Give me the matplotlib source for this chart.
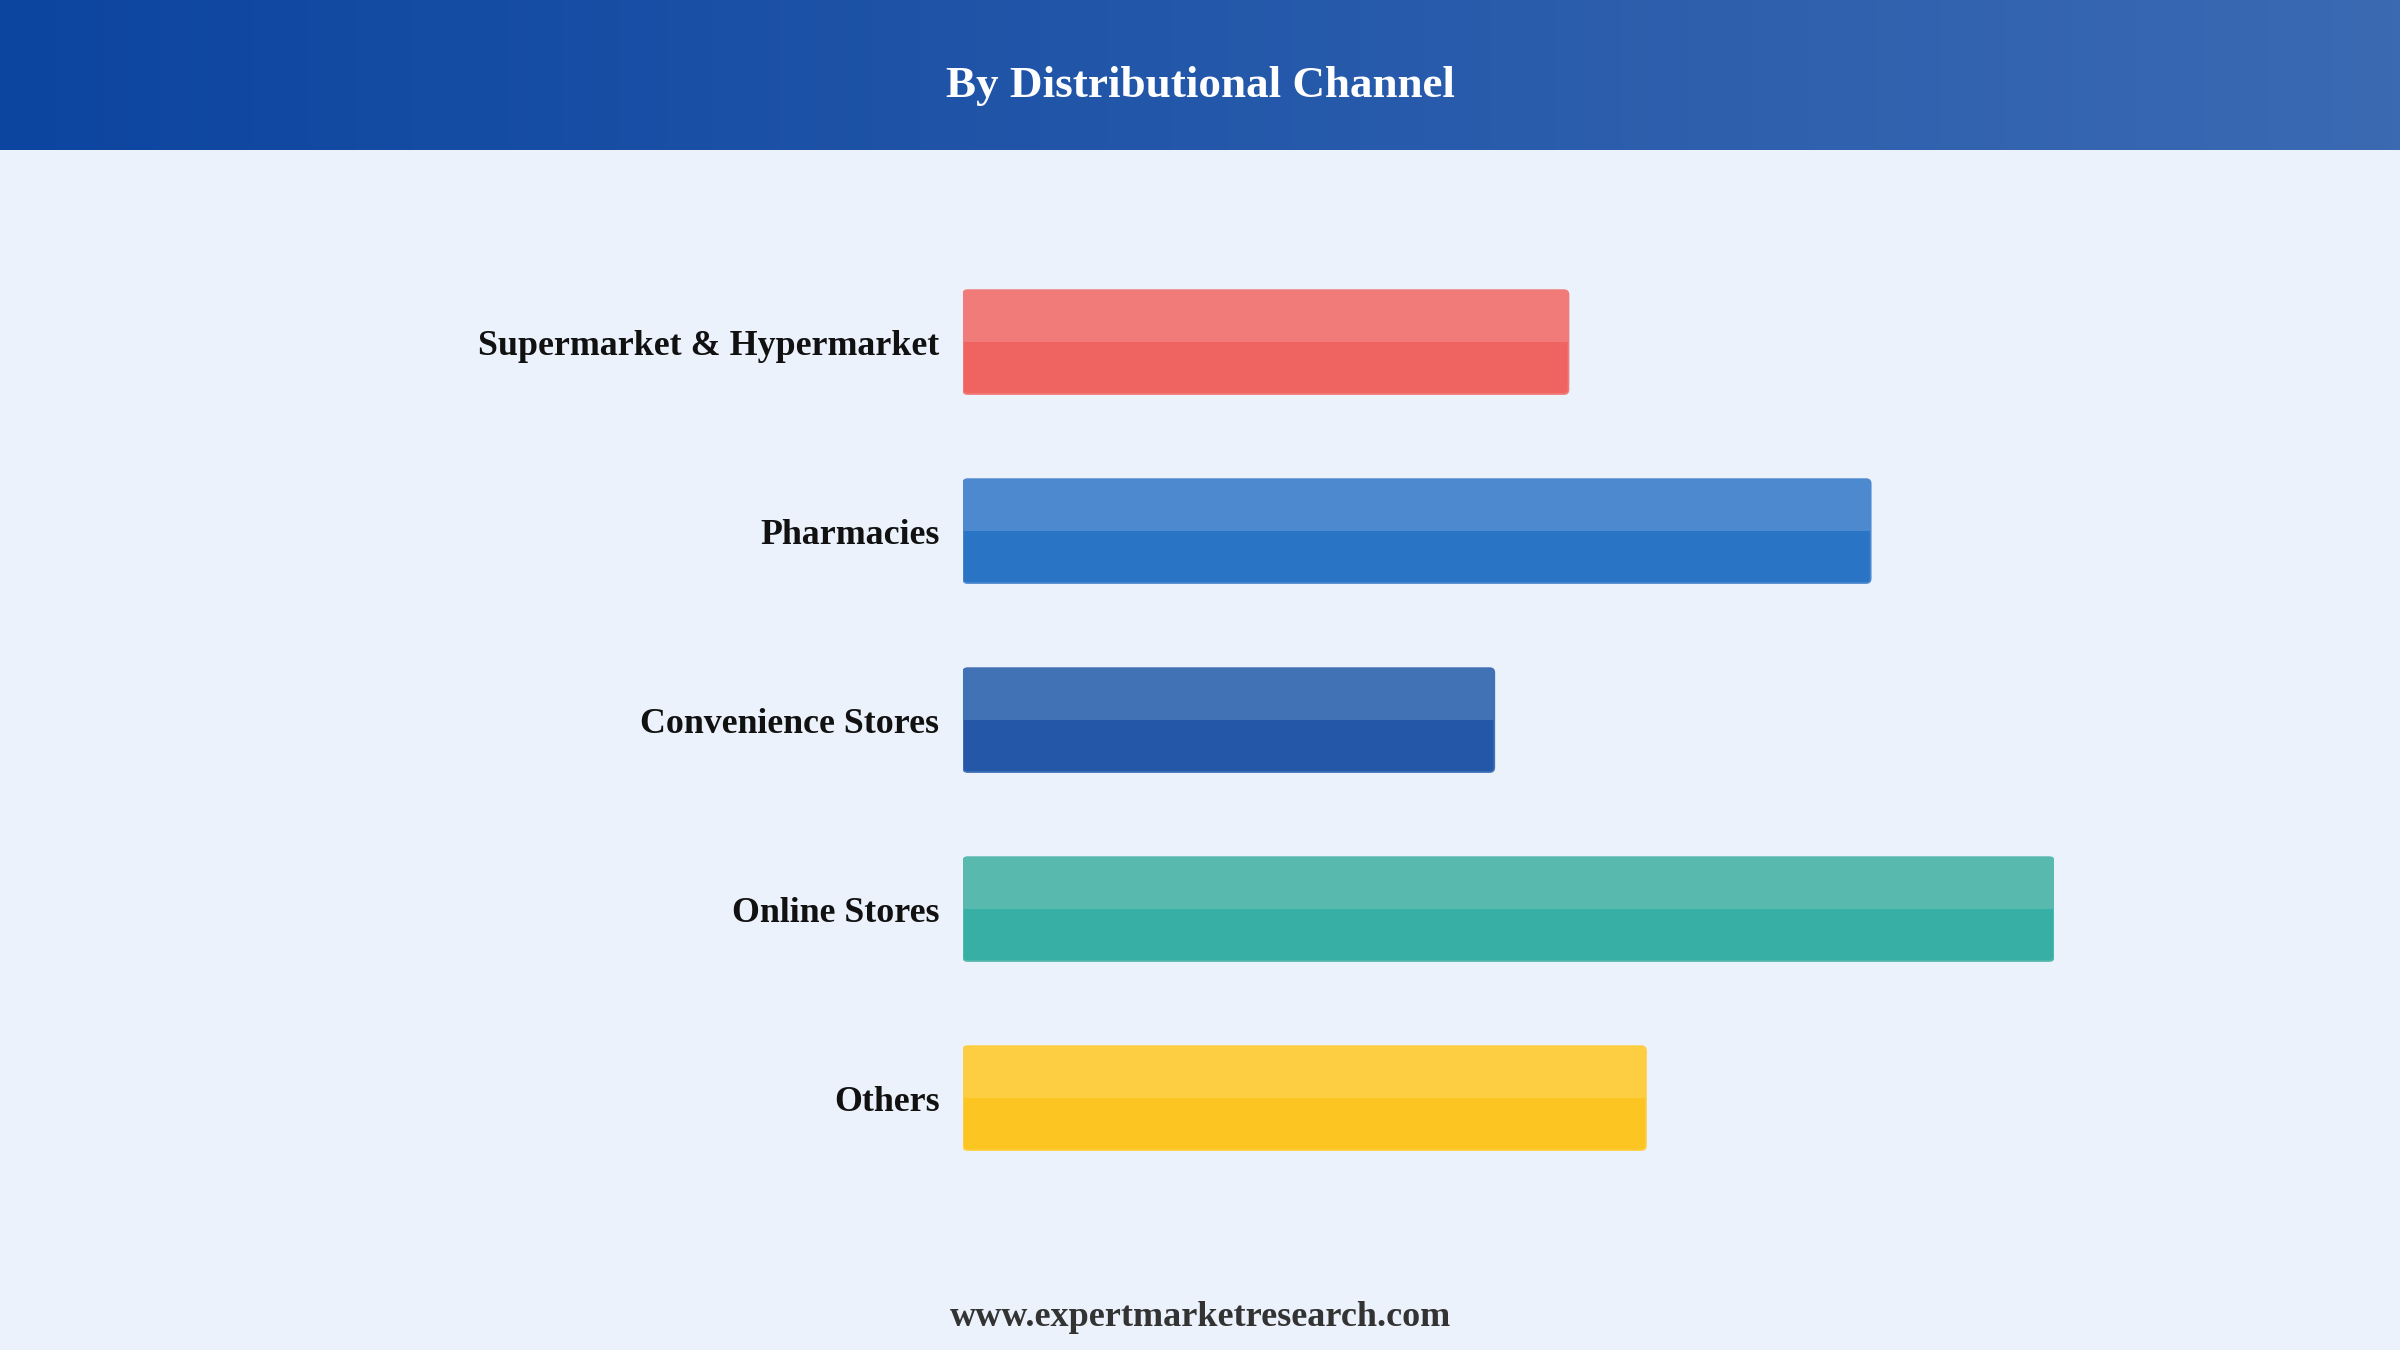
import numpy as np
import matplotlib.pyplot as plt
from matplotlib.patches import FancyBboxPatch, Rectangle
from matplotlib.colors import LinearSegmentedColormap

# Данные
channels = ['Supermarket & Hypermarket', 'Pharmacies', 'Convenience Stores',
            'Online Stores', 'Others']
shares = [55.5, 83.2, 48.7, 100.0, 62.6]
base_colors = ['#EF6461', '#2A74C5', '#2457A8', '#38AFA4', '#FDC521']
light_colors = ['#F17B79', '#4C89CF', '#4272B6', '#58B9AF', '#FECE42']

title = 'By Distributional Channel'
footer = 'www.expertmarketresearch.com'

W, H = 2400, 1350
fig = plt.figure(figsize=(24, 13.5), dpi=100)
fig.patch.set_facecolor('#EBF2FC')

# Шапка с градиентом
head = fig.add_axes([0, 1 - 150 / H, 1, 150 / H])
grad = np.linspace(0, 1, 256).reshape(1, -1)
cmap = LinearSegmentedColormap.from_list('hdr', ['#0C45A0', '#3B6AB3'])
head.imshow(grad, aspect='auto', cmap=cmap, extent=(0, 1, 0, 1))
head.set_axis_off()
head.text(0.5, 0.43, title, ha='center', va='center', color='white',
          fontsize=32.5, fontweight='bold', family='Liberation Serif')

# Основной график
ax = fig.add_axes([963 / W, 0.1166, 1091 / W, 0.70])
ax.set_facecolor('none')
y = np.arange(len(channels))
bar_h = 0.55
bars = ax.barh(y, shares, height=bar_h, color='none')
ax.set_xlim(0, 100)
ax.set_ylim(len(channels) - 0.5, -0.5)

r_x = 0.42
aspect = (1 / 189) / (100 / 1091)
for b, c_base, c_light in zip(bars, base_colors, light_colors):
    x0, y0 = b.get_x(), b.get_y()
    w, h = b.get_width(), b.get_height()
    full = FancyBboxPatch((x0, y0), w, h,
                          boxstyle=f'round,pad=0,rounding_size={r_x}',
                          mutation_aspect=aspect, facecolor=c_base,
                          edgecolor=c_light, linewidth=1.2, zorder=2)
    ax.add_patch(full)
    top = Rectangle((x0, y0), w, h / 2, facecolor=c_light,
                    edgecolor='none', zorder=3)
    ax.add_patch(top)
    top.set_clip_path(full)

ax.set_yticks(y)
ax.set_yticklabels(channels, fontsize=25.8, fontweight='bold',
                   family='Liberation Serif', color='#111111')
ax.tick_params(axis='y', length=0, pad=17)
ax.set_xticks([])
for s in ax.spines.values():
    s.set_visible(False)

fig.text(0.5, 1 - 1317 / H, footer, ha='center', va='center',
         fontsize=26, fontweight='bold', family='Liberation Serif',
         color='#333333')

fig.savefig('out.png', dpi=100, facecolor=fig.get_facecolor())
